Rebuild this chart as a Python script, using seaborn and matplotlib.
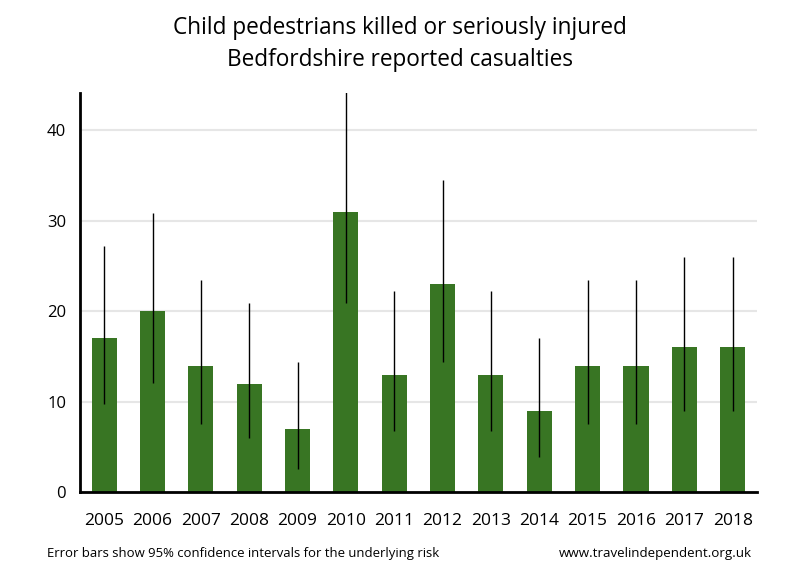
import numpy as np
import pandas as pd
import matplotlib
matplotlib.use("Agg")
import matplotlib.pyplot as plt
import seaborn as sns


# ==========================================
# DATA
# ==========================================

years = ["2005", "2006", "2007", "2008", "2009", "2010", "2011",
         "2012", "2013", "2014", "2015", "2016", "2017", "2018"]

casualties = [17, 20, 14, 12, 7, 31, 13, 23, 13, 9, 14, 14, 16, 16]

ci_low = [9.8, 12.1, 7.5, 6.0, 2.6, 20.9, 6.8, 14.4, 6.8, 3.9, 7.5, 7.5, 9.0, 9.0]

ci_high = [27.2, 30.8, 23.4, 20.9, 14.4, 45.5, 22.2, 34.5, 22.2, 17.0, 23.4, 23.4, 26.0, 26.0]

df = pd.DataFrame({"year": years, "casualties": casualties})


# ==========================================
# STYLE
# ==========================================

sns.set_style("white")
plt.rcParams["font.family"] = ["Open Sans", "DejaVu Sans"]
plt.rcParams["text.color"] = "black"
plt.rcParams["xtick.color"] = "black"
plt.rcParams["ytick.color"] = "black"

bar_colour = "#387523"


# ==========================================
# PLOT
# ==========================================

fig = plt.figure(figsize=(8, 5.8), dpi=100)
ax = fig.add_axes([0.1, 0.151, 0.846, 0.689])

sns.barplot(
    data=df,
    x="year",
    y="casualties",
    color=bar_colour,
    saturation=1,
    width=0.52,
    linewidth=0,
    ax=ax,
    zorder=2
)

xpos = np.arange(len(years))
vals = np.array(casualties)

ax.errorbar(
    xpos,
    vals,
    yerr=[vals - np.array(ci_low), np.array(ci_high) - vals],
    fmt="none",
    ecolor="black",
    elinewidth=1,
    capsize=0,
    zorder=3
)

ax.set_xlim(-0.5, len(years) - 0.5)
ax.set_ylim(0, 44.1)
ax.set_yticks([0, 10, 20, 30, 40])

ax.yaxis.grid(True, color="#e6e6e6", linewidth=1.5, zorder=0)
ax.set_axisbelow(True)

for side in ["top", "right"]:
    ax.spines[side].set_visible(False)
for side in ["left", "bottom"]:
    ax.spines[side].set_color("black")
    ax.spines[side].set_linewidth(2)

ax.tick_params(axis="y", direction="out", length=6, width=2, color="black",
               labelcolor="black", labelsize=12, pad=4)
ax.tick_params(axis="x", length=0, labelcolor="black", labelsize=12.5, pad=15)

ax.set_xlabel("")
ax.set_ylabel("")


# ==========================================
# TEXT
# ==========================================

fig.text(0.5, 0.951, "Child pedestrians killed or seriously injured",
         ha="center", va="center", fontsize=16.3, color="black")
fig.text(0.5, 0.896, "Bedfordshire reported casualties",
         ha="center", va="center", fontsize=16.3, color="black")

fig.text(0.059, 0.046, "Error bars show 95% confidence intervals for the underlying risk",
         ha="left", va="center", fontsize=9.45, color="black")
fig.text(0.94, 0.046, "www.travelindependent.org.uk",
         ha="right", va="center", fontsize=9.6, color="black")

fig.savefig("out.png", dpi=100)
